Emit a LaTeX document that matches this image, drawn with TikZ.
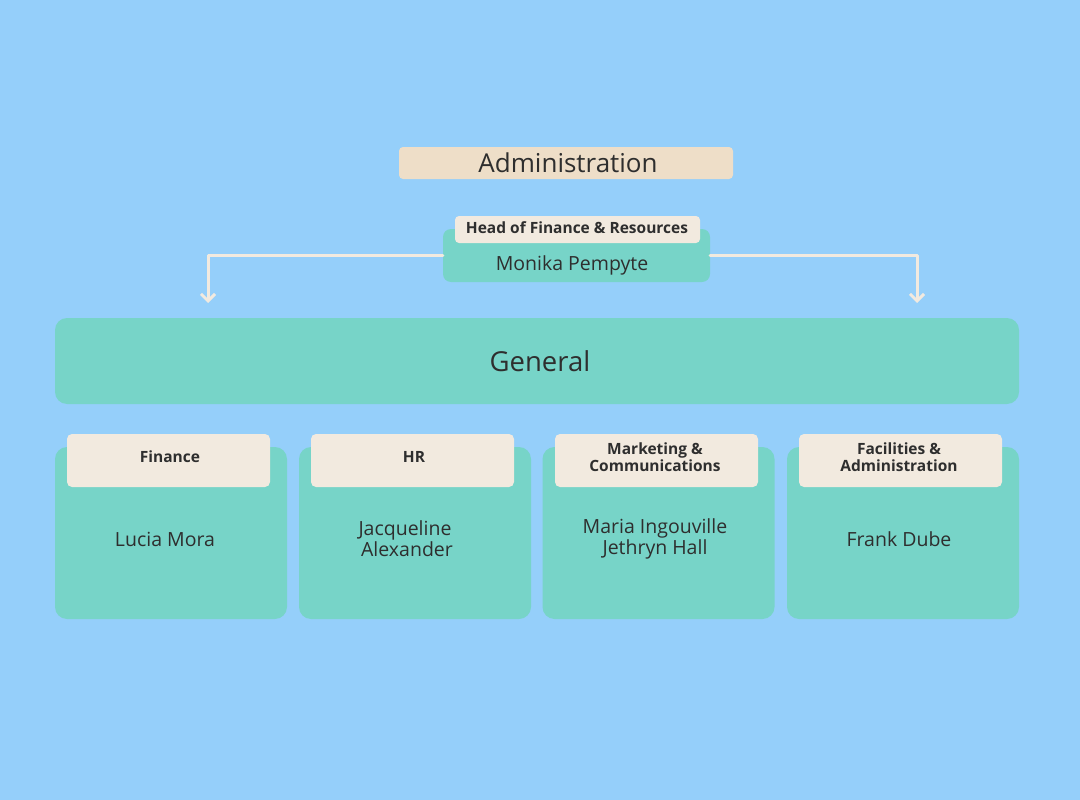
\documentclass[tikz,border=0pt]{standalone}
\usepackage{fontspec}
\setmainfont{Open Sans}
\usetikzlibrary{arrows.meta}
\definecolor{bgblue}{HTML}{95CFFA}
\definecolor{teal}{HTML}{77D4C8}
\definecolor{beige}{HTML}{EEDEC8}
\definecolor{cream}{HTML}{F2EADF}
\definecolor{ink}{HTML}{2E2E2E}
\tikzset{
  tealbox/.style={fill=teal, draw=none, rounded corners=12pt, inner sep=0pt},
  labelbox/.style={fill=cream, draw=none, rounded corners=5pt, inner sep=0pt},
  lbltext/.style={text=ink, font=\fontsize{15.5}{17}\selectfont\bfseries, align=center, inner sep=0pt},
  nametext/.style={text=ink, font=\fontsize{19.5}{21}\selectfont, align=center, inner sep=0pt},
  conn/.style={draw=cream, line width=3pt, line cap=round, line join=round, -{Straight Barb[length=7pt,width=14pt,line width=3pt]}}
}
\begin{document}
\begin{tikzpicture}[x=1pt,y=-1pt]
\fill[bgblue] (0,0) rectangle (1080,800);
\useasboundingbox (0,0) rectangle (1080,800);
% Administration
\node[fill=beige, rounded corners=4pt, minimum width=334pt, minimum height=32pt, inner sep=0pt] (admin) at (566,163) {};
\node[text=ink, font=\fontsize{26}{30}\selectfont, inner sep=0pt] (admintxt) at (568,163) {Administration};
% Head
\node[tealbox, rounded corners=8pt, minimum width=267pt, minimum height=53pt] (head) at (576.5,255.5) {};
\node[labelbox, rounded corners=4pt, minimum width=245pt, minimum height=27pt] (headlbl) at (577.5,229.5) {};
\node[lbltext] (headlbltxt) at (577,228) {Head of Finance \& Resources};
\node[nametext] (monika) at (572,265) {Monika Pempyte};
% General
\node[tealbox, minimum width=964pt, minimum height=86pt] (general) at (537,361) {};
\node[text=ink, font=\fontsize{27.5}{30}\selectfont, inner sep=0pt] (gentxt) at (540,361) {General};
% connectors
\coordinate (tipL) at (208,303);
\coordinate (tipR) at (917,303);
\draw[conn] (head.west) -| (tipL);
\draw[conn] (head.east) -| (tipR);
% Cards
\foreach \n/\cx/\lx in {c1/171/168.5, c2/415/412.5, c3/658.5/656.5, c4/903/900.5}{
  \node[tealbox, minimum width=232pt, minimum height=172pt] (\n) at (\cx,533) {};
  \node[labelbox, minimum width=203pt, minimum height=53pt] (\n lbl) at (\lx,460.5) {};
}
\node[lbltext] (t1) at (170,457) {Finance};
\node[lbltext] (t2) at (414,457) {HR};
\node[lbltext] (t3) at (655,457) {Marketing \&\\Communications};
\node[lbltext] (t4) at (899,457) {Facilities \&\\Administration};
\node[nametext] (n1) at (165,539) {Lucia Mora};
\node[nametext] (n2) at (405,539) {Jacqueline\\\hspace*{4pt}Alexander};
\node[nametext] (n3) at (655,539) {Maria Ingouville\\Jethryn Hall};
\node[nametext] (n4) at (899,539) {Frank Dube};
\end{tikzpicture}
\end{document}
